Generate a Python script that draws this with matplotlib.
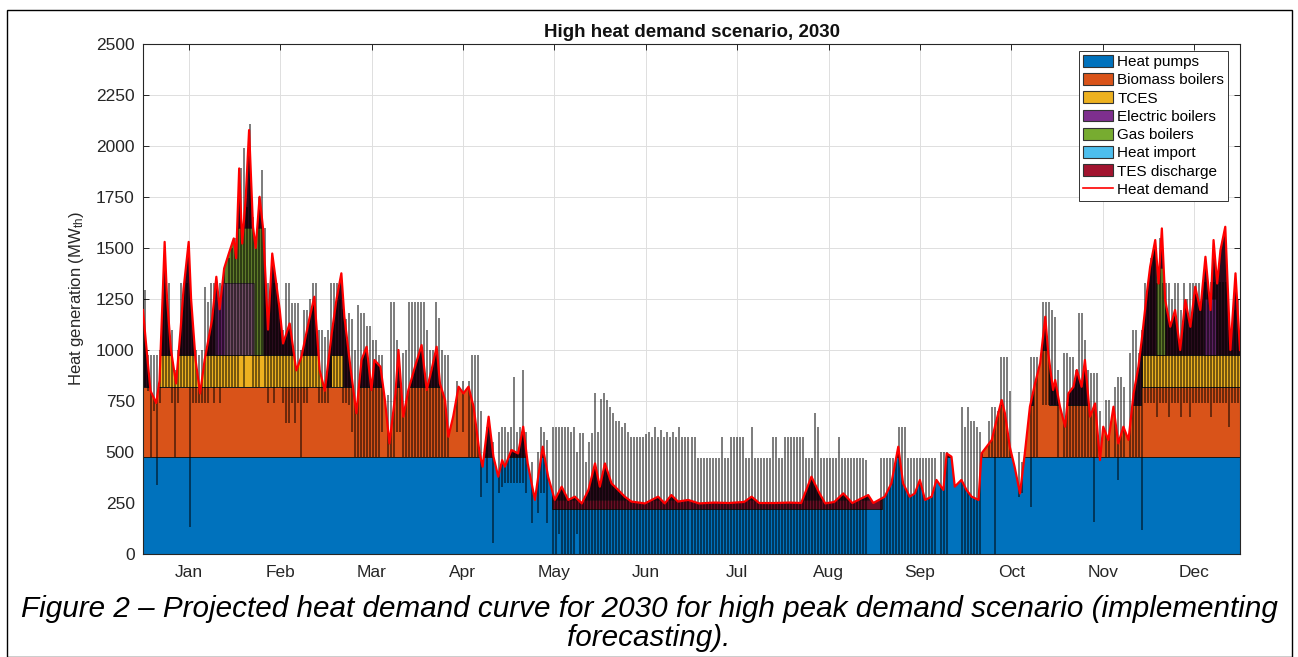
import numpy as np
import matplotlib
matplotlib.use("Agg")
import matplotlib.pyplot as plt
from matplotlib.patches import PathPatch, Patch, Rectangle
from matplotlib.lines import Line2D

plt.rcParams['font.family'] = ['Liberation Sans', 'DejaVu Sans']
plt.rcParams['mathtext.fontset'] = 'custom'
plt.rcParams['mathtext.rm'] = 'Liberation Sans'
plt.rcParams['mathtext.it'] = 'Liberation Sans:italic'

# ---------------- data ----------------
months = ['Jan', 'Feb', 'Mar', 'Apr', 'May', 'Jun', 'Jul', 'Aug', 'Sep', 'Oct', 'Nov', 'Dec']
series_names = ['Heat pumps', 'Biomass boilers', 'TCES', 'Electric boilers',
                'Gas boilers', 'Heat import', 'TES discharge']
series_colors = ['#0072BD', '#D95319', '#EDB120', '#7E2F8E', '#77AC30', '#4DBEEE', '#A2142F']

# heat demand (day of year, MW_th)
demand_day = [0, 1, 2.5, 4.4, 5.5, 7.2, 8, 9.3, 11, 12.5, 13.5, 15.2, 16, 17.5, 19, 20.5, 21.5, 23,
              24.4, 25.5, 27, 28.5, 30.2, 31, 32, 33, 34.2, 35.3, 36.6, 37.5, 38.8, 40, 41.6, 43,
              45.5, 46.6, 48.8, 51, 52.7, 55.5, 57, 58.8, 60.5, 62.8, 64.4, 66, 67, 69, 71, 72.7,
              74.4, 76, 77, 79, 80.5, 82, 84, 85, 86.6, 88.3, 90.5, 92.7, 94.4, 96, 97.7, 98.8,
              100.5, 101.6, 103.2, 105, 106.6, 108.3, 110, 112, 113, 115, 116.6, 118.2, 119.5,
              120.4, 122.6, 124.8, 126.5, 128, 130.4, 131.5, 133, 134.8, 137, 139.3, 141.5, 143.7,
              146, 148.2, 150.4, 152, 153.7, 155.9, 158.1, 160.3, 162.5, 167, 171.4, 173.6, 175.8,
              178, 181.4, 185, 190, 195, 200, 202.5, 205, 210, 215, 219, 222.4, 223.5, 225, 227,
              230, 233, 236, 238, 241.3, 243, 246.8, 249, 251.3, 252.9, 255.1, 256.8, 258.5, 260.2,
              262.4, 264, 266.3, 267.4, 269, 270.1, 272.3, 274, 275.7, 278, 279, 280.7, 282.4, 284,
              285.7, 286.8, 288.4, 290, 291.8, 293.4, 295.1, 296.8, 298.5, 300.2, 301.2, 302.8,
              303.5, 305.1, 306.8, 307.9, 309.6, 310.7, 312.3, 313.4, 315.1, 316.8, 318.4, 319.5,
              321.2, 322.9, 324.5, 326.2, 327.9, 329.6, 331.2, 332.3, 334, 335.1, 336.8, 337.9,
              339, 340.1, 341.8, 343.4, 345.1, 346.8, 348.5, 350.1, 351.8, 353.5, 355.2, 356.2,
              357.4, 358.5, 360.1, 361.8, 363.5, 365]
demand_mw = [1196, 1032, 800, 740, 850, 1530, 1250, 1000, 836, 1100, 1300, 1530, 1250, 950, 787, 950,
             1030, 1150, 1359, 1200, 1400, 1470, 1547, 1450, 1890, 1522, 1750, 2078, 1604, 1500,
             1751, 1588, 1100, 1473, 1196, 1032, 1130, 900, 966, 1163, 1261, 900, 800, 1082, 1250,
             1376, 1163, 918, 690, 951, 1016, 804, 951, 918, 755, 542, 787, 1000, 673, 804, 918,
             1024, 804, 902, 1016, 836, 755, 575, 673, 820, 787, 820, 722, 493, 428, 673, 477, 379,
             460, 428, 510, 493, 624, 444, 265, 379, 526, 379, 265, 330, 265, 281, 248, 314, 444,
             330, 444, 346, 314, 281, 257, 248, 281, 248, 289, 257, 265, 248, 252, 250, 255, 281,
             250, 250, 252, 250, 379, 346, 300, 248, 255, 297, 250, 265, 289, 250, 281, 346, 526,
             346, 281, 297, 363, 265, 281, 363, 314, 493, 477, 330, 363, 314, 281, 265, 493, 526,
             559, 657, 755, 689, 526, 428, 297, 493, 722, 836, 935, 1163, 984, 804, 853, 722, 624,
             787, 820, 902, 820, 951, 673, 738, 460, 624, 559, 722, 542, 624, 559, 787, 918, 1049,
             1277, 1408, 1539, 1326, 1596, 1245, 1114, 1196, 1000, 1245, 1114, 1310, 1196, 1457,
             1196, 1539, 1326, 1490, 1604, 1000, 1376, 1000]

# upper edge of each stacked technology (day, MW_th) - capacity levels
hp_day = [0, 136, 136, 246, 246, 365]
hp_top = [475, 475, 222, 222, 475, 475]
bio_day = [0, 113, 113, 279, 279, 296, 296, 301.5, 301.5, 332, 332, 365]
bio_top = [820, 820, 0, 0, 730, 730, 1000, 1000, 730, 730, 820, 820]
tces_day = [0, 5, 5, 60.5, 60.5, 62.5, 62.5, 66.5, 66.5, 332.5, 332.5, 365]
tces_top = [0, 0, 975, 975, 0, 0, 975, 975, 0, 0, 975, 975]
elec_day = [0, 24, 24, 37, 37, 353, 353, 357, 357, 365]
elec_top = [0, 0, 1330, 1330, 0, 0, 1250, 1250, 0, 0]
gas_day = [0, 27, 27, 40, 40, 337, 337, 340, 340, 365]
gas_top = [0, 0, 1600, 1600, 0, 0, 1400, 1400, 0, 0]
tes_day = [0, 136, 136, 246, 246, 365]
tes_top = [0, 0, 265, 265, 0, 0]

# daily hourly extremes of the stacked areas (black area edges), per day of year
nan = float('nan')
edge_hi = (
    [1294, 975, 975, 975, 975, 1000, 1326, 1326, 1326, 1100, 900, 1000, 1326, 1326, 1326, 1326, 1100,
     1000, 975, 1000, 1310, 1236, 1326, 1326, 1326, 1326, 1326, 1326, 1450, 1500, 1550] +
    [1600, 1890, 1988, 1700, 2110, 1650, 1500, 1750, 1882, 1600, 1326, 1326, 1326, 1326, 1150, 1100,
     1326, 1326, 1228, 1228, 1228, 1000, 1196, 1196, 1250, 1326, 1326, 1100] +
    [1100, 1065, 1100, 1327, 1327, 1327, 1250, 1200, 1150, 1180, 1150, 1000, 1220, 1180, 1180, 1120,
     1120, 1050, 1050, 975, 975, nan, 780, 1237, 1237, 1050, 850, 983, 1000, 1237, 1237] +
    [1237, 1237, 1237, 1237, 1100, 1000, 1000, 1237, 1155, 1000, 975, 975, nan, nan, 850, nan, 850,
     nan, 850, 975, 975, 975, 700, nan, 624, nan, 550, nan, 600, 624] +
    [624, 600, 624, 869, 600, 624, 902, 600, nan, 450, nan, 500, 624, 600, 560, nan, 624, 624, 624,
     624, 624, 624, 600, 624, 500, 591, 591, 450, 550, 591, 788] +
    [600, 760, 788, 755, 720, 690, 650, 650, 624, 640, 600, 575, 575, 575, 575, 575, 590, 600, 575,
     624, 575, 610, 575, 600, 575, 600, 575, 624, 575, 575] +
    [575, 575, 575, 469, 469, 469, 469, 469, 469, 469, 469, 575, 469, 469, 575, 575, 575, 575, 575,
     469, 469, 624, 469, 469, 469, 469, 469, 469, 575, 575, 469] +
    [469, 575, 575, 575, 575, 575, 575, 575, 469, 469, 469, 690, 624, 469, 469, 469, 469, 469, 469,
     575, 469, 469, 469, 469, 469, 469, 469, 469, 461, nan, nan] +
    [nan, nan, 469, 469, 469, 469, 469, 469, 624, 624, 624, 469, 469, 469, 469, 469, 469, 469, 469,
     469, 469, nan, 500, 500, 500, nan, nan, nan, nan, 722] +
    [624, 722, 650, 650, 624, 600, nan, nan, 650, 722, 722, 700, 967, 967, 967, 800, nan, nan, 500,
     450, nan, nan, 967, 967, 967, nan, 1237, 1237, 1237, 1196, 1163] +
    [900, nan, 983, 983, 967, 967, 900, 1180, 1180, 1049, 900, 885, 885, 885, 700, nan, 755, 755,
     nan, 820, 869, 869, 820, nan, 983, 1098, 1098, 983, 1100, 1327] +
    [1327, 1450, 1500, 1327, 1550, 1327, 1327, 1327, 1250, 1327, 1327, 1196, 1327, 1250, 1327, 1327,
     1327, 1327, 1250, 1335, 1335, 1335, 1335, 1335, 1335, 1335, 1335, 1100, 1000, 1196, 1250])
edge_lo = (
    [820, 800, 475, 700, 338, 740, 820, 820, 820, 740, 475, 740, 820, 820, 820, 133, 740, 740, 740,
     740, 740, 740, 820, 740, 820, 740, 820, 820, 820, 820, 820] +
    [820, 975, 820, 975, 975, 820, 820, 820, 975, 820, 740, 820, 740, 820, 820, 740, 640, 640, 740,
     640, 740, 475, 740, 740, 820, 820, 820, 740] +
    [740, 740, 740, 820, 820, 820, 820, 740, 740, 730, 600, 477, 477, 477, 477, 477, 477, 477, 477,
     477, 600, nan, 477, 477, 477, 600, 600, 477, 477, 477, 477] +
    [477, 477, 477, 477, 477, 477, 477, 477, 477, 477, 477, 477, nan, nan, 600, nan, 600, nan, 477,
     477, 477, 477, 281, nan, 350, nan, 52, nan, 300, 330] +
    [350, 350, 350, 350, 350, 350, 350, 300, nan, 150, nan, 200, 300, 300, 150, nan, 0, 0, 100, 0,
     0, 0, 0, 0, 100, 0, 0, 0, 0, 0, 0] +
    [0] * 30 +
    [0] * 31 +
    [0] * 29 + [nan, nan] +
    [nan, nan] + [0] * 19 + [nan, 0, 0, 0, nan, nan, nan, nan, 0] +
    [0, 0, 0, 0, 0, 0, nan, nan, 475, 475, 0, 475, 475, 475, 475, 475, nan, nan, 281, 300, nan, nan,
     232, 475, 475, nan, 730, 730, 730, 730, 730] +
    [475, nan, 475, 475, 475, 475, 475, 475, 475, 475, 475, 475, 158, 475, 475, nan, 475, 475, nan,
     475, 362, 475, 475, nan, 475, 475, 475, 475, 117, 738] +
    [738, 738, 738, 673, 738, 738, 738, 673, 738, 738, 738, 673, 738, 738, 673, 738, 738, 738, 738,
     738, 738, 673, 738, 738, 738, 738, 738, 624, 738, 738, 738])

# ---------------- figure ----------------
W, H = 1298, 657
fig = plt.figure(figsize=(W / 100, H / 100), dpi=100)
fig.patch.set_facecolor('white')
ax = fig.add_axes([143 / W, 1 - 554 / H, (1240 - 143) / W, (554 - 44) / H])

# demand envelope used as clip region for the stacked layers
dem = ax.fill_between(demand_day, 0, demand_mw, facecolor='#2a0b1c', edgecolor='none', zorder=1)
clip = PathPatch(dem.get_paths()[0], transform=ax.transData, facecolor='none', edgecolor='none')
ax.add_patch(clip)

layers = [(gas_day, gas_top, series_colors[4], 0.7),
          (elec_day, elec_top, series_colors[3], 0.6),
          (tes_day, tes_top, series_colors[6], 0.55),
          (tces_day, tces_top, series_colors[2], 1.0),
          (bio_day, bio_top, series_colors[1], 1.0),
          (hp_day, hp_top, series_colors[0], 1.0)]
for d, t, c, a in layers:
    pc = ax.fill_between(d, 0, t, facecolor=c, edgecolor='#1a1a1a', linewidth=0.6,
                         alpha=a, zorder=1.5)
    pc.set_clip_path(clip)

# black area edges
eh = np.array(edge_hi, dtype=float)
el = np.array(edge_lo, dtype=float)
days = np.arange(len(eh)) + 0.5
m = ~(np.isnan(eh) | np.isnan(el))
ax.vlines(days[m], el[m], eh[m], colors='black', alpha=0.6, linewidth=1.2, zorder=2)

# heat demand
ax.plot(demand_day, demand_mw, color='#FF0000', linewidth=1.6, zorder=3)

# axes styling
ax.set_xlim(0, 365)
ax.set_ylim(0, 2500)
ax.set_yticks(np.arange(0, 2501, 250))
ax.set_xticks([(i + 0.5) * 365 / 12 for i in range(12)])
ax.set_xticklabels(months)
ax.grid(True, color='#dedede', linewidth=0.7)
ax.set_axisbelow(True)
ax.tick_params(direction='in', length=4, width=0.7, colors='#262626', labelsize=12.5,
               top=True, right=True, labeltop=False, labelright=False, pad=6)
ax.tick_params(axis='x', pad=8)
for s in ax.spines.values():
    s.set_color('#262626')
    s.set_linewidth(0.8)
ax.set_ylabel('Heat generation (MW$_{\\mathrm{th}}$)', fontsize=12, color='#262626', labelpad=7)
ax.set_title('High heat demand scenario, 2030', fontsize=13.5, fontweight='bold',
             color='#111111', pad=5)

handles = [Patch(facecolor=c, edgecolor='#333333', linewidth=0.8) for c in series_colors]
handles.append(Line2D([0], [0], color='#FF0000', linewidth=1.2))
leg = ax.legend(handles, series_names + ['Heat demand'], loc='upper right',
                bbox_to_anchor=(1228 / W, 1 - 51 / H), bbox_transform=fig.transFigure,
                borderaxespad=0, fontsize=11, frameon=True, fancybox=False,
                edgecolor='#333333', framealpha=1, handlelength=2.0, handleheight=0.8,
                labelspacing=0.27, borderpad=0.25, handletextpad=0.25)
leg.get_frame().set_linewidth(0.7)
leg.set_zorder(5)

fig.text(0.5, 1 - 609 / H,
         'Figure 2 \u2013 Projected heat demand curve for 2030 for high peak demand scenario (implementing',
         ha='center', va='center', fontsize=21.3, style='italic', color='black')
fig.text(0.5, 1 - 638 / H, 'forecasting).', ha='center', va='center', fontsize=21.3,
         style='italic', color='black')

# outer frame of the figure image
fig.add_artist(Rectangle((7 / W, 0), (1292 - 7) / W, 1 - 10 / H, transform=fig.transFigure,
                         fill=False, edgecolor='black', linewidth=1.0))

fig.savefig('out.png', dpi=100, facecolor='white')
